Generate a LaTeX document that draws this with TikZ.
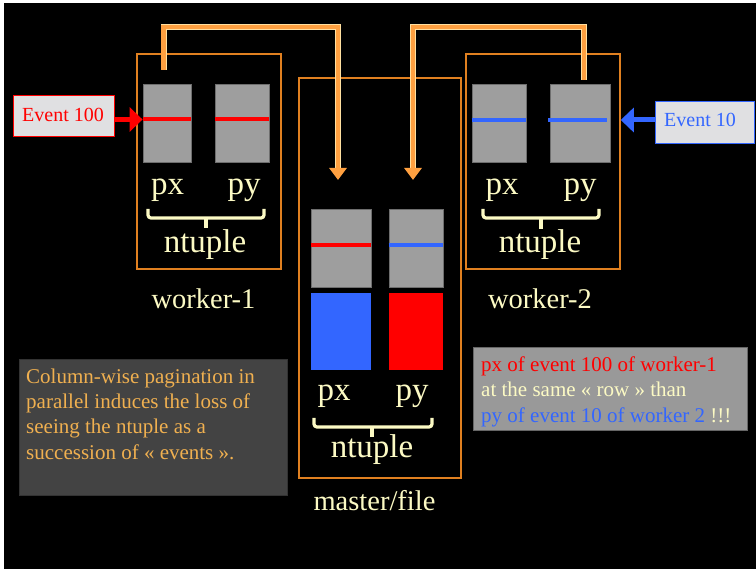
\documentclass[tikz,border=0pt]{standalone}
\usepackage{fontspec}
\setmainfont{Liberation Serif}
\usetikzlibrary{arrows.meta,calc}
\definecolor{cream}{RGB}{252,250,196}
\definecolor{boxorange}{RGB}{224,128,32}
\definecolor{connorange}{RGB}{255,160,64}
\definecolor{connpale}{RGB}{255,224,160}
\definecolor{colgray}{RGB}{158,158,158}
\definecolor{colborder}{RGB}{110,110,110}
\definecolor{evred}{RGB}{255,0,0}
\definecolor{evblue}{RGB}{51,102,255}
\definecolor{gold}{RGB}{240,176,80}
\definecolor{darkpanel}{RGB}{67,67,67}
\definecolor{lightpanel}{RGB}{153,153,153}
\definecolor{evfill}{RGB}{224,224,226}
\tikzset{
  frame/.style={draw=boxorange, line width=1.5pt},
  column/.style={fill=colgray, draw=colborder, line width=0.8pt},
  bigtxt/.style={text=cream, font=\fontsize{33}{36}\selectfont, inner sep=0pt, anchor=base},
  labeltxt/.style={text=cream, font=\fontsize{28.5}{32}\selectfont, inner sep=0pt, anchor=base},
  bracepath/.style={draw=cream, line width=3.2pt, rounded corners=3pt},
  conn/.style={draw=connorange, line width=4.5pt, -{Triangle[length=12pt,width=17pt]}},
  connbg/.style={draw=connpale, line width=6pt},
  evtxt/.style={font=\fontsize{20}{24}\selectfont, inner sep=0pt, anchor=base},
  notetxt/.style={font=\fontsize{21}{25}\selectfont, inner sep=0pt, anchor=base west},
}
\begin{document}
\begin{tikzpicture}[x=1pt,y=-1pt]
\useasboundingbox (0,0) rectangle (756,572);
\fill[white] (0,0) rectangle (756,572);
\fill[black] (4,3) rectangle (756,569);

% frames
\node[frame, minimum width=144pt, minimum height=215pt, inner sep=0pt] (w1) at (209,161.5) {};
\node[frame, minimum width=162pt, minimum height=400pt, inner sep=0pt] (m) at (380,278) {};
\node[frame, minimum width=154pt, minimum height=215pt, inner sep=0pt] (w2) at (543,161.5) {};

% worker-1 columns
\node[column, minimum width=48pt, minimum height=78pt, inner sep=0pt] (w1px) at (167,123) {};
\node[column, minimum width=54pt, minimum height=78pt, inner sep=0pt] (w1py) at (242,123) {};
\draw[evred, line width=4pt] (w1px.west |- 0,119.5) -- (w1px.east |- 0,119.5);
\draw[evred, line width=4pt] (w1py.west |- 0,119.5) -- (w1py.east |- 0,119.5);

% worker-2 columns
\node[column, minimum width=54pt, minimum height=78pt, inner sep=0pt] (w2px) at (499,123) {};
\node[column, minimum width=60pt, minimum height=78pt, inner sep=0pt] (w2py) at (580,123) {};
\draw[evblue, line width=4pt] (w2px.west |- 0,120) -- (w2px.east |- 0,120);
\draw[evblue, line width=4pt] (548,120) -- (607,120);

% master columns
\node[column, minimum width=60pt, minimum height=78pt, inner sep=0pt] (mpx) at (341,248) {};
\node[column, minimum width=54pt, minimum height=78pt, inner sep=0pt] (mpy) at (416,248) {};
\draw[evred, line width=4pt] (mpx.west |- 0,245) -- (mpx.east |- 0,245);
\draw[evblue, line width=4pt] (mpy.west |- 0,245) -- (mpy.east |- 0,245);
\node[fill=evblue, minimum width=60pt, minimum height=77pt, inner sep=0pt] (mpxb) at (341,331.5) {};
\node[fill=evred, minimum width=54pt, minimum height=77pt, inner sep=0pt] (mpyb) at (416,331.5) {};

% labels worker-1
\node[bigtxt] (t1) at (167.5,195) {px};
\node[bigtxt] (t2) at (244,195) {py};
\draw[bracepath] (148,209) -- (148,218) -- (264,218) -- (264,209);
\draw[cream, line width=3.2pt] (206,217) -- (206,228);
\node[bigtxt] (t3) at (205,253) {ntuple};
\node[labeltxt] (t4) at (203.5,309) {worker-1};

% labels worker-2
\node[bigtxt] (t5) at (502,195) {px};
\node[bigtxt] (t6) at (580,195) {py};
\draw[bracepath] (483,209) -- (483,218) -- (599,218) -- (599,209);
\draw[cream, line width=3.2pt] (541,217) -- (541,229);
\node[bigtxt] (t7) at (540,253) {ntuple};
\node[labeltxt] (t8) at (540,309) {worker-2};

% labels master
\node[bigtxt] (t9) at (334,401) {px};
\node[bigtxt] (t10) at (412,401) {py};
\draw[bracepath] (314,418) -- (314,427) -- (432,427) -- (432,418);
\draw[cream, line width=3.2pt] (372,426) -- (372,437);
\node[bigtxt] (t11) at (372,457) {ntuple};
\node[labeltxt] (t12) at (374.5,510) {master/file};

% event boxes
\node[draw=evred, fill=evfill, line width=1pt, minimum width=101pt, minimum height=41pt, inner sep=0pt] (e100) at (63.5,116.5) {};
\node[evtxt, text=evred] at (63,122) {Event 100};
\draw[evred, line width=5pt, -{Triangle[length=13pt,width=24pt]}] (e100.east |- 0,119.5) -- (w1px.west |- 0,119.5);

\node[draw=evblue, fill=evfill, line width=1pt, minimum width=99pt, minimum height=42pt, inner sep=0pt] (e10) at (704.5,123) {};
\node[evtxt, text=evblue] at (700,127) {Event 10};
\draw[evblue, line width=5pt, -{Triangle[length=13pt,width=24pt]}] (e10.west |- 0,120) -- (w2.east |- 0,120);

% connectors
\coordinate (c1s) at (163.5,70);
\coordinate (c1e) at (338,180);
\coordinate (c2s) at (584,80);
\coordinate (c2e) at (413,180);
\draw[connbg] (c1s) -- (c1s |- 0,27) -- (c1e |- 0,27) -- ($(c1e)+(0,-12)$);
\draw[conn] (c1s) -- (c1s |- 0,27) -- (c1e |- 0,27) -- (c1e);
\draw[connbg] (c2s) -- (c2s |- 0,27) -- (c2e |- 0,27) -- ($(c2e)+(0,-12)$);
\draw[conn] (c2s) -- (c2s |- 0,27) -- (c2e |- 0,27) -- (c2e);

% note panels
\node[fill=darkpanel, draw=black!80, minimum width=268pt, minimum height=136pt, inner sep=0pt] (n1) at (153,427) {};
\node[notetxt, text=gold] at (26,384) {Column-wise pagination in};
\node[notetxt, text=gold] at (26,409) {parallel induces the loss of};
\node[notetxt, text=gold] at (26,434) {seeing the ntuple as a};
\node[notetxt, text=gold] at (26,459) {succession of « events ».};

\node[fill=lightpanel, draw=black!60, minimum width=274pt, minimum height=83pt, inner sep=0pt] (n2) at (610,388.5) {};
\node[notetxt, text=evred] at (481,372) {px of event 100 of worker-1};
\node[notetxt, text=cream] at (481,397) {at the same « row » than};
\node[notetxt] at (481,423) {\textcolor{evblue}{py of event 10 of worker 2} \textcolor{cream}{!!!}};
\end{tikzpicture}
\end{document}
